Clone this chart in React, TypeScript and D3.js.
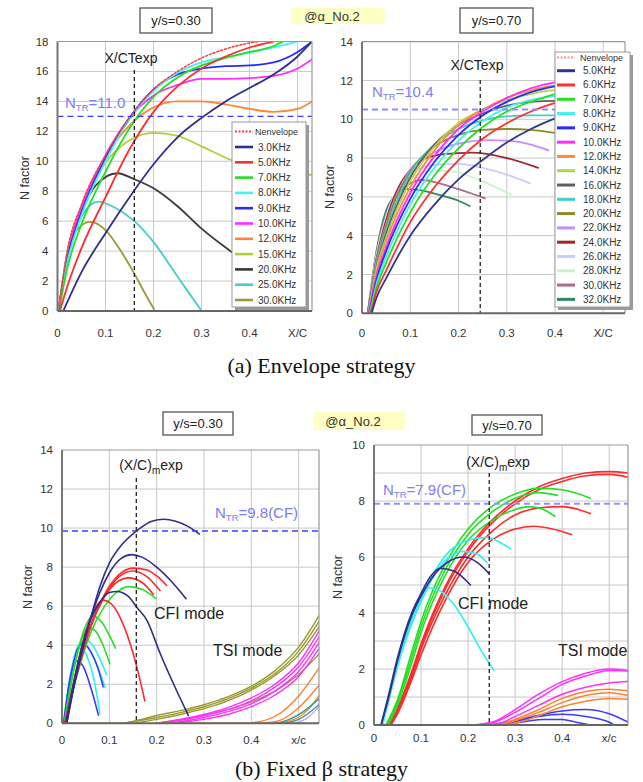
import React from "react";
import * as d3 from "d3";

type Pt = [number, number];

// ================= (a) y/s=0.30 : envelope strategy =================
const aLabels = ["3.0KHz", "5.0KHz", "7.0KHz", "8.0KHz", "9.0KHz", "10.0KHz", "12.0KHz", "15.0KHz", "20.0KHz", "25.0KHz", "30.0KHz"];
const aColors = ["#2e2e8c", "#ff2d2d", "#22e022", "#44f0f0", "#2a2aff", "#ff2cff", "#ff8534", "#a9d13a", "#3a3a3a", "#45cccc", "#9c9a38"];
const aEnvelope: Pt[] = [[0.003, 0], [0.02, 3.9], [0.05, 7.1], [0.1, 10.4], [0.15, 12.9], [0.2, 14.8], [0.25, 16.0], [0.3, 16.9], [0.35, 17.5], [0.4, 17.9], [0.42, 18]];
const a3k: Pt[] = [[0.012, 0], [0.05, 2.6], [0.1, 5.2], [0.15, 7.6], [0.2, 9.8], [0.25, 11.6], [0.3, 12.9], [0.35, 14.0], [0.4, 14.9], [0.45, 15.8], [0.5, 17.0], [0.53, 18]];
const a5k: Pt[] = [[0.005, 0], [0.02, 1.6], [0.05, 4.2], [0.1, 7.6], [0.15, 10.8], [0.2, 13.3], [0.25, 15.0], [0.3, 16.2], [0.35, 17.0], [0.4, 17.6], [0.45, 18.0]];
const a7k: Pt[] = [[0.003, 0], [0.02, 2.8], [0.05, 5.8], [0.1, 9.3], [0.15, 12.2], [0.2, 14.3], [0.25, 15.6], [0.3, 16.4], [0.35, 16.9], [0.4, 17.3], [0.45, 17.7], [0.47, 18]];
const a8k: Pt[] = [[0.002, 0], [0.02, 3.2], [0.05, 6.4], [0.1, 10.0], [0.15, 12.8], [0.2, 14.7], [0.25, 15.9], [0.3, 16.6], [0.35, 16.95], [0.4, 17.25], [0.45, 17.6], [0.5, 18]];
const a9k: Pt[] = [[0.002, 0], [0.02, 3.4], [0.05, 6.6], [0.1, 10.2], [0.15, 12.9], [0.2, 14.8], [0.25, 15.8], [0.3, 16.2], [0.35, 16.35], [0.4, 16.4], [0.45, 16.6], [0.5, 17.3], [0.53, 18]];
const a10k: Pt[] = [[0.002, 0], [0.02, 3.6], [0.05, 6.9], [0.1, 10.4], [0.15, 12.9], [0.2, 14.4], [0.25, 15.1], [0.3, 15.5], [0.35, 15.5], [0.4, 15.55], [0.45, 15.7], [0.5, 16.2], [0.53, 16.8]];
const a12k: Pt[] = [[0.002, 0], [0.02, 3.8], [0.05, 7.0], [0.1, 10.3], [0.15, 12.4], [0.2, 13.6], [0.25, 14.0], [0.3, 14.0], [0.35, 13.8], [0.4, 13.5], [0.45, 13.3], [0.5, 13.5], [0.53, 14.0]];
const a15k: Pt[] = [[0.002, 0], [0.02, 3.9], [0.05, 7.0], [0.1, 9.9], [0.15, 11.4], [0.2, 11.9], [0.25, 11.7], [0.3, 11.0], [0.36, 10.1], [0.42, 9.4], [0.48, 9.1], [0.53, 9.1]];
const a20k: Pt[] = [[0.002, 0], [0.02, 3.6], [0.05, 6.6], [0.08, 8.4], [0.125, 9.2], [0.16, 8.8], [0.2, 8.2], [0.25, 7.0], [0.3, 5.5], [0.36, 4.0], [0.42, 2.6]];
const a25k: Pt[] = [[0.002, 0], [0.02, 3.5], [0.05, 6.3], [0.085, 7.3], [0.12, 6.9], [0.16, 6.0], [0.2, 4.6], [0.25, 2.3], [0.3, 0]];
const a30k: Pt[] = [[0.002, 0], [0.02, 3.8], [0.04, 5.4], [0.068, 5.95], [0.1, 5.4], [0.13, 4.1], [0.16, 2.5], [0.18, 1.3], [0.203, 0]];
const aCurves = [a3k, a5k, a7k, a8k, a9k, a10k, a12k, a15k, a20k, a25k, a30k];

// ================= (a) y/s=0.70 : envelope strategy =================
const bLabels = ["5.0KHz", "6.0KHz", "7.0KHz", "8.0KHz", "9.0KHz", "10.0KHz", "12.0KHz", "14.0KHz", "16.0KHz", "18.0KHz", "20.0KHz", "22.0KHz", "24.0KHz", "26.0KHz", "28.0KHz", "30.0KHz", "32.0KHz"];
const bColors = ["#34348e", "#ff3030", "#22e022", "#44f0f0", "#2a2aff", "#ff2cff", "#ff8a40", "#b2d44a", "#606060", "#45cccc", "#8c8a24", "#c48cff", "#9c2a2a", "#ccccff", "#c8f5c8", "#b06a88", "#2e8a5a"];
const b5k: Pt[] = [[0.02, 0], [0.03, 0.8], [0.05, 1.8], [0.1, 4.0], [0.15, 5.6], [0.2, 6.9], [0.25, 7.9], [0.3, 8.8], [0.35, 9.5], [0.4, 10.05], [0.45, 10.5]];
const b6k: Pt[] = [[0.018, 0], [0.03, 1.1], [0.05, 2.2], [0.1, 4.7], [0.15, 6.5], [0.2, 7.9], [0.25, 9.0], [0.3, 9.8], [0.35, 10.4], [0.4, 10.85], [0.45, 11.2]];
const b7k: Pt[] = [[0.017, 0], [0.03, 1.3], [0.05, 2.6], [0.1, 5.2], [0.15, 7.1], [0.2, 8.5], [0.25, 9.6], [0.3, 10.4], [0.35, 10.9], [0.4, 11.3], [0.45, 11.5]];
const b8k: Pt[] = [[0.016, 0], [0.03, 1.5], [0.05, 2.9], [0.1, 5.6], [0.15, 7.5], [0.2, 8.9], [0.25, 9.9], [0.3, 10.6], [0.35, 11.0], [0.4, 11.2], [0.45, 11.3]];
const b9k: Pt[] = [[0.015, 0], [0.03, 1.7], [0.05, 3.2], [0.1, 5.9], [0.15, 7.8], [0.2, 9.2], [0.25, 10.2], [0.3, 10.9], [0.35, 11.4], [0.4, 11.7], [0.45, 11.85]];
const b10k: Pt[] = [[0.014, 0], [0.03, 1.9], [0.05, 3.4], [0.1, 6.2], [0.15, 8.1], [0.2, 9.5], [0.25, 10.4], [0.3, 11.1], [0.35, 11.6], [0.4, 11.9], [0.45, 12.0]];
const b12k: Pt[] = [[0.013, 0], [0.03, 2.1], [0.05, 3.7], [0.1, 6.5], [0.15, 8.4], [0.2, 9.7], [0.25, 10.5], [0.3, 11.1], [0.35, 11.5], [0.4, 11.75], [0.45, 11.85]];
const b14k: Pt[] = [[0.013, 0], [0.03, 2.3], [0.05, 3.9], [0.1, 6.8], [0.15, 8.6], [0.2, 9.8], [0.25, 10.5], [0.3, 11.0], [0.35, 11.3], [0.4, 11.5], [0.45, 11.5]];
const b16k: Pt[] = [[0.012, 0], [0.03, 2.4], [0.05, 4.1], [0.1, 7.0], [0.15, 8.7], [0.2, 9.7], [0.25, 10.3], [0.3, 10.7], [0.35, 10.9], [0.4, 10.95], [0.45, 10.9]];
const b18k: Pt[] = [[0.012, 0], [0.03, 2.5], [0.05, 4.3], [0.1, 7.2], [0.15, 8.7], [0.2, 9.5], [0.25, 9.95], [0.3, 10.15], [0.35, 10.2], [0.4, 10.2], [0.45, 10.1]];
const b20k: Pt[] = [[0.012, 0], [0.03, 2.6], [0.05, 4.5], [0.1, 7.3], [0.15, 8.6], [0.2, 9.2], [0.25, 9.45], [0.3, 9.5], [0.35, 9.45], [0.4, 9.3]];
const b22k: Pt[] = [[0.012, 0], [0.03, 2.7], [0.05, 4.6], [0.1, 7.4], [0.15, 8.3], [0.2, 8.75], [0.26, 8.93], [0.3, 8.9], [0.35, 8.7], [0.386, 8.4]];
const b24k: Pt[] = [[0.012, 0], [0.03, 2.8], [0.05, 4.8], [0.08, 6.7], [0.1, 7.4], [0.124, 7.9], [0.17, 8.2], [0.228, 8.28], [0.3, 8.0], [0.365, 7.5]];
const b26k: Pt[] = [[0.012, 0], [0.03, 2.9], [0.05, 4.9], [0.1, 7.2], [0.15, 7.65], [0.2, 7.7], [0.25, 7.5], [0.3, 7.15], [0.348, 6.7]];
const b28k: Pt[] = [[0.012, 0], [0.03, 3.0], [0.05, 5.0], [0.1, 7.0], [0.15, 7.35], [0.19, 7.3], [0.25, 6.8], [0.31, 6.1]];
const b30k: Pt[] = [[0.012, 0], [0.03, 3.1], [0.05, 5.1], [0.08, 6.3], [0.1, 6.7], [0.124, 6.87], [0.16, 6.7], [0.2, 6.4], [0.23, 6.15], [0.255, 5.93]];
const b32k: Pt[] = [[0.012, 0], [0.03, 3.2], [0.05, 5.3], [0.07, 6.1], [0.09, 6.4], [0.12, 6.35], [0.16, 6.1], [0.2, 5.8], [0.223, 5.53]];
const bCurves = [b5k, b6k, b7k, b8k, b9k, b10k, b12k, b14k, b16k, b18k, b20k, b22k, b24k, b26k, b28k, b30k, b32k];

// ================= (b) y/s=0.30 : fixed beta strategy =================
const cNavy: Pt[][] = [
  [[0.01, 0], [0.03, 2.4], [0.05, 4.4], [0.08, 7.0], [0.1, 8.2], [0.13, 9.25], [0.16, 9.9], [0.19, 10.35], [0.215, 10.45], [0.24, 10.35], [0.265, 10.1], [0.29, 9.7]],
  [[0.01, 0], [0.03, 2.5], [0.05, 4.5], [0.08, 6.7], [0.1, 7.7], [0.125, 8.45], [0.147, 8.64], [0.17, 8.5], [0.2, 8.0], [0.23, 7.3], [0.262, 6.38]],
  [[0.008, 0], [0.03, 2.7], [0.05, 4.6], [0.08, 6.2], [0.1, 6.7], [0.116, 6.75], [0.14, 6.5], [0.158, 5.95], [0.18, 5.25], [0.207, 3.6], [0.235, 2.05], [0.267, 0.4]],
];
const cRed: Pt[][] = [
  [[0.006, 0], [0.03, 2.4], [0.06, 4.9], [0.09, 6.6], [0.12, 7.6], [0.15, 7.95], [0.18, 7.85], [0.2, 7.55], [0.221, 7.06]],
  [[0.006, 0], [0.03, 2.4], [0.06, 4.9], [0.09, 6.5], [0.12, 7.5], [0.15, 7.8], [0.18, 7.5], [0.207, 6.8]],
  [[0.006, 0], [0.03, 2.5], [0.06, 5.0], [0.09, 6.5], [0.12, 7.3], [0.14, 7.45], [0.17, 7.2], [0.193, 6.6]],
  [[0.006, 0], [0.03, 2.7], [0.05, 4.7], [0.07, 5.9], [0.087, 6.3], [0.105, 6.1], [0.125, 5.3], [0.145, 4.0], [0.16, 2.7], [0.175, 1.15]],
];
const cGreen: Pt[][] = [
  [[0.006, 0], [0.03, 2.3], [0.06, 4.6], [0.09, 6.0], [0.115, 6.7], [0.14, 7.0], [0.17, 6.85], [0.198, 6.4]],
  [[0.005, 0], [0.02, 2.1], [0.04, 4.3], [0.066, 5.5], [0.085, 5.15], [0.1, 4.5], [0.113, 3.85]],
  [[0.005, 0], [0.02, 2.2], [0.04, 4.2], [0.055, 4.9], [0.07, 4.75], [0.085, 4.1], [0.101, 3.05]],
];
const cCyan: Pt[][] = [
  [[0.003, 0], [0.02, 2.7], [0.035, 4.0], [0.05, 4.25], [0.065, 4.0], [0.08, 3.3], [0.094, 2.5]],
  [[0.003, 0], [0.02, 2.7], [0.033, 3.9], [0.045, 4.1], [0.06, 3.7], [0.075, 2.9], [0.091, 1.85]],
  [[0.003, 0], [0.02, 2.8], [0.03, 3.6], [0.04, 3.85], [0.055, 3.3], [0.068, 2.2], [0.08, 0.5]],
];
const cBlue: Pt[][] = [
  [[0.004, 0], [0.02, 2.6], [0.033, 3.8], [0.045, 4.08], [0.06, 3.7], [0.075, 2.9], [0.087, 1.87]],
  [[0.004, 0], [0.015, 2.0], [0.025, 3.0], [0.032, 3.2], [0.045, 2.9], [0.06, 1.9], [0.077, 0.42]],
];
const cTsiOlive: Pt[][] = [
  [[0.0, 0], [0.12, 0], [0.15, 0.1], [0.2, 0.4], [0.25, 0.65], [0.3, 0.95], [0.35, 1.35], [0.4, 1.9], [0.45, 2.7], [0.5, 3.9], [0.545, 5.6]],
  [[0.13, 0], [0.2, 0.3], [0.25, 0.55], [0.3, 0.85], [0.35, 1.25], [0.4, 1.8], [0.45, 2.55], [0.5, 3.7], [0.545, 5.3]],
  [[0.15, 0], [0.2, 0.2], [0.25, 0.45], [0.3, 0.75], [0.35, 1.15], [0.4, 1.7], [0.45, 2.45], [0.5, 3.5], [0.545, 5.0]],
  [[0.2, 0], [0.25, 0.2], [0.3, 0.4], [0.35, 0.7], [0.4, 1.1], [0.45, 1.65], [0.5, 2.5], [0.545, 3.6]],
];
const cTsiMagenta: Pt[][] = [
  [[0.2, 0], [0.25, 0.2], [0.3, 0.45], [0.35, 0.8], [0.4, 1.3], [0.45, 2.0], [0.5, 3.1], [0.545, 4.8]],
  [[0.21, 0], [0.25, 0.15], [0.3, 0.4], [0.35, 0.7], [0.4, 1.15], [0.45, 1.85], [0.5, 2.9], [0.545, 4.5]],
  [[0.22, 0], [0.26, 0.12], [0.3, 0.3], [0.35, 0.6], [0.4, 1.0], [0.45, 1.65], [0.5, 2.65], [0.545, 4.2]],
  [[0.24, 0], [0.3, 0.2], [0.35, 0.45], [0.4, 0.85], [0.45, 1.45], [0.5, 2.4], [0.545, 3.9]],
];
const cTsiOrange: Pt[][] = [
  [[0.2, 0], [0.38, 0], [0.42, 0.1], [0.46, 0.5], [0.5, 1.4], [0.545, 2.9]],
  [[0.42, 0], [0.46, 0.15], [0.5, 0.8], [0.545, 2.0]],
  [[0.45, 0], [0.49, 0.2], [0.52, 0.7], [0.545, 1.5]],
];
const cTsiTeal: Pt[][] = [
  [[0.45, 0], [0.48, 0.2], [0.51, 0.6], [0.545, 1.3]],
  [[0.47, 0], [0.5, 0.2], [0.545, 1.0]],
];
const cTsiLavender: Pt[][] = [[[0.49, 0], [0.52, 0.3], [0.545, 0.9]]];

// ================= (b) y/s=0.70 : fixed beta strategy =================
const dNavy: Pt[][] = [
  [[0.015, 0], [0.03, 0.9], [0.05, 2.3], [0.08, 3.9], [0.1, 4.6], [0.13, 5.4], [0.16, 5.85], [0.19, 6.0], [0.22, 5.8], [0.245, 5.4]],
  [[0.015, 0], [0.03, 1.0], [0.05, 2.4], [0.08, 4.0], [0.1, 4.7], [0.12, 5.3], [0.14, 5.6], [0.17, 5.5], [0.205, 5.0]],
];
const dCyan: Pt[][] = [
  [[0.018, 0], [0.03, 0.8], [0.05, 2.1], [0.08, 3.7], [0.1, 4.5], [0.13, 5.5], [0.16, 6.2], [0.2, 6.6], [0.24, 6.7], [0.27, 6.5], [0.29, 6.3]],
  [[0.018, 0], [0.03, 0.8], [0.05, 2.1], [0.08, 3.6], [0.1, 4.4], [0.13, 5.4], [0.16, 6.0], [0.19, 6.2], [0.22, 6.1], [0.24, 5.8]],
  [[0.016, 0], [0.03, 0.9], [0.05, 2.2], [0.08, 3.8], [0.1, 4.6], [0.12, 4.9], [0.14, 4.8], [0.17, 4.3], [0.2, 3.5], [0.23, 2.6], [0.255, 1.95]],
];
const dGreen: Pt[][] = [
  [[0.025, 0], [0.05, 0.9], [0.08, 2.6], [0.1, 3.7], [0.15, 5.7], [0.2, 7.0], [0.25, 7.8], [0.3, 8.25], [0.35, 8.45], [0.4, 8.4], [0.46, 8.1]],
  [[0.027, 0], [0.05, 0.8], [0.08, 2.4], [0.1, 3.5], [0.15, 5.5], [0.2, 6.8], [0.25, 7.6], [0.3, 8.1], [0.35, 8.3], [0.39, 8.2]],
  [[0.03, 0], [0.05, 0.7], [0.08, 2.2], [0.1, 3.3], [0.15, 5.3], [0.2, 6.6], [0.25, 7.3], [0.3, 7.7], [0.33, 7.8], [0.36, 7.7], [0.385, 7.45]],
];
const dRed: Pt[][] = [
  [[0.03, 0], [0.05, 0.6], [0.08, 1.9], [0.1, 2.9], [0.15, 4.9], [0.2, 6.3], [0.25, 7.3], [0.3, 8.0], [0.35, 8.5], [0.4, 8.8], [0.45, 9.0], [0.5, 9.05], [0.54, 9.0]],
  [[0.032, 0], [0.05, 0.5], [0.08, 1.8], [0.1, 2.8], [0.15, 4.8], [0.2, 6.2], [0.25, 7.2], [0.3, 7.9], [0.35, 8.4], [0.4, 8.7], [0.45, 8.9], [0.5, 8.95], [0.54, 8.85]],
  [[0.034, 0], [0.05, 0.5], [0.08, 1.7], [0.1, 2.7], [0.15, 4.6], [0.2, 6.0], [0.25, 6.9], [0.3, 7.5], [0.35, 7.75], [0.4, 7.8], [0.46, 7.55]],
  [[0.036, 0], [0.05, 0.4], [0.08, 1.6], [0.1, 2.5], [0.15, 4.4], [0.2, 5.8], [0.25, 6.6], [0.3, 7.0], [0.34, 7.1], [0.38, 7.0], [0.42, 6.8]],
];
const dTsiMagenta: Pt[][] = [
  [[0.0, 0], [0.2, 0], [0.25, 0.1], [0.3, 0.55], [0.35, 1.1], [0.4, 1.55], [0.45, 1.85], [0.5, 2.0], [0.54, 1.95]],
  [[0.21, 0], [0.25, 0.07], [0.3, 0.45], [0.35, 0.95], [0.4, 1.45], [0.45, 1.75], [0.5, 1.95], [0.54, 1.93]],
  [[0.23, 0], [0.27, 0.08], [0.3, 0.3], [0.35, 0.7], [0.4, 1.1], [0.45, 1.35], [0.5, 1.5], [0.54, 1.55]],
];
const dTsiOrange: Pt[][] = [
  [[0.26, 0], [0.3, 0.2], [0.35, 0.55], [0.4, 0.95], [0.45, 1.2], [0.5, 1.28], [0.54, 1.22]],
  [[0.27, 0], [0.3, 0.15], [0.35, 0.45], [0.4, 0.8], [0.45, 1.05], [0.5, 1.15], [0.54, 1.05]],
  [[0.28, 0], [0.32, 0.15], [0.36, 0.4], [0.4, 0.65], [0.45, 0.85], [0.5, 0.95], [0.54, 0.92]],
];
const dTsiBlue: Pt[][] = [
  [[0.25, 0], [0.3, 0.15], [0.35, 0.35], [0.4, 0.5], [0.45, 0.55], [0.5, 0.4], [0.54, 0.1]],
  [[0.26, 0], [0.3, 0.12], [0.35, 0.3], [0.4, 0.38], [0.45, 0.3], [0.5, 0.1], [0.51, 0]],
  [[0.27, 0], [0.32, 0.12], [0.36, 0.2], [0.4, 0.2], [0.43, 0.1], [0.46, 0]],
];

// reference values
const ntrValues = [13.0, 10.5, 9.85, 7.9];
const ntrTexts = ["=11.0", "=10.4", "=9.8(CF)", "=7.9(CF)"];
const xcExp = [0.16, 0.245, 0.157, 0.245];
const xTickValues = [0, 0.1, 0.2, 0.3, 0.4];

const SANS = "'Liberation Sans', Arial, Helvetica, sans-serif";
const SERIF = "'Liberation Serif', 'Times New Roman', serif";

type Curve = { pts: Pt[]; color: string; width?: number; dash?: string };
type Box = { l: number; r: number; t: number; b: number };

function Panel(props: {
  id: string; box: Box; xMax: number; yMax: number; yStep: number; gridStep: number;
  xEnd: string; xLabelDy: number; curves: Curve[]; ntr: number; ntrColor: string; ntrWidth: number;
  vx: number; vTop: number; yLabelPos: [number, number];
  extra: (x: d3.ScaleLinear<number, number>, y: d3.ScaleLinear<number, number>) => React.ReactNode;
}) {
  const { id, box, xMax, yMax, yStep, gridStep, curves } = props;
  const x = d3.scaleLinear().domain([0, xMax]).range([box.l, box.r]);
  const y = d3.scaleLinear().domain([0, yMax]).range([box.b, box.t]);
  const line = d3.line<Pt>().x((d) => x(d[0])).y((d) => y(d[1])).curve(d3.curveMonotoneX);
  const yGrid = d3.range(gridStep, yMax - 1e-6, gridStep);
  const xGrid = d3.range(1, Math.floor(xMax * 10 + 1e-6) + 1).map((i) => i / 10).filter((v) => v < xMax - 0.005);
  const yTicks = d3.range(0, yMax + 1e-6, yStep);
  return (
    <g>
      <defs>
        <clipPath id={id}>
          <rect x={box.l} y={box.t} width={box.r - box.l} height={box.b - box.t} />
        </clipPath>
      </defs>
      <rect x={box.l} y={box.t} width={box.r - box.l} height={box.b - box.t} fill="#fff" />
      {yGrid.map((v) => (
        <line key={"gy" + v} x1={box.l} x2={box.r} y1={y(v)} y2={y(v)} stroke="#c8c8c8" strokeWidth={1} />
      ))}
      {xGrid.map((v) => (
        <line key={"gx" + v} x1={x(v)} x2={x(v)} y1={box.t} y2={box.b} stroke="#c8c8c8" strokeWidth={1} />
      ))}
      <g clipPath={`url(#${id})`}>
        {curves.map((c, i) => (
          <path key={i} d={line(c.pts) || ""} fill="none" stroke={c.color} strokeWidth={c.width ?? 1.7}
            strokeDasharray={c.dash} strokeLinecap="round" strokeLinejoin="round" />
        ))}
        <line x1={box.l} x2={box.r} y1={y(props.ntr)} y2={y(props.ntr)} stroke={props.ntrColor}
          strokeWidth={props.ntrWidth} strokeDasharray="6,4" />
        <line x1={x(props.vx)} x2={x(props.vx)} y1={props.vTop} y2={box.b} stroke="#222"
          strokeWidth={1.3} strokeDasharray="4,3" />
      </g>
      <line x1={box.l} x2={box.r} y1={box.t} y2={box.t} stroke="#999" strokeWidth={1.2} />
      <line x1={box.r} x2={box.r} y1={box.t} y2={box.b} stroke="#999" strokeWidth={1.2} />
      <line x1={box.l} x2={box.l} y1={box.t} y2={box.b} stroke="#777" strokeWidth={2} />
      <line x1={box.l} x2={box.r} y1={box.b} y2={box.b} stroke="#666" strokeWidth={2} />
      {yTicks.map((v) => (
        <text key={"ty" + v} x={box.l - 9} y={y(v)} dy="0.35em" textAnchor="end" fontSize={11.5}
          fontFamily={SANS} fill="#333">{d3.format("d")(v)}</text>
      ))}
      {xTickValues.map((v) => (
        <text key={"tx" + v} x={x(v)} y={box.b + props.xLabelDy} dy="0.35em" textAnchor="middle"
          fontSize={11.5} fontFamily={SANS} fill="#333">{v === 0 ? "0" : d3.format(".1f")(v)}</text>
      ))}
      <text x={x(0.5)} y={box.b + props.xLabelDy} dy="0.35em" textAnchor="middle" fontSize={11.5}
        fontFamily={SANS} fill="#333">{props.xEnd}</text>
      <text transform={`translate(${props.yLabelPos[0]},${props.yLabelPos[1]}) rotate(-90)`} textAnchor="middle"
        dy="0.35em" fontSize={12.5} fontFamily={SANS} fill="#333">N factor</text>
      {props.extra(x, y)}
    </g>
  );
}

function Legend(props: { x: number; y: number; w: number; h: number; envY: number; envColor: string; firstY: number; step: number;
  labels: string[]; colors: string[]; sx: number; tx: number; sw: number; fs: number; }) {
  const { x, y, w, h } = props;
  return (
    <g>
      <rect x={x + 3} y={y + 3} width={w} height={h} fill="#9a9a9a" />
      <rect x={x} y={y} width={w} height={h} fill="#fff" stroke="#999" strokeWidth={1} />
      <line x1={props.sx} x2={props.sx + 18} y1={props.envY} y2={props.envY} stroke={props.envColor} strokeWidth={1.8} strokeDasharray="2,1.5" />
      <text x={props.tx - 3} y={props.envY} dy="0.35em" fontSize={props.fs - 1} fontFamily={SANS} fill="#333">Nenvelope</text>
      {props.labels.map((lab, i) => {
        const yy = props.firstY + i * props.step;
        return (
          <g key={lab}>
            <line x1={props.sx} x2={props.sx + 18} y1={yy} y2={yy} stroke={props.colors[i]} strokeWidth={props.sw} />
            <text x={props.tx} y={yy} dy="0.35em" fontSize={props.fs} fontFamily={SANS} fill="#333">{lab}</text>
          </g>
        );
      })}
    </g>
  );
}

function NtrLabel(props: { x: number; y: number; text: string; color: string }) {
  return (
    <text x={props.x} y={props.y} fontSize={15} fontFamily={SANS} fill={props.color}>
      N<tspan fontSize={9.5} dy={3}>TR</tspan><tspan dy={-3}>{props.text}</tspan>
    </text>
  );
}

function XcmLabel(props: { x: number; y: number }) {
  return (
    <text x={props.x} y={props.y} textAnchor="middle" fontSize={14} fontFamily={SANS} fill="#222">
      (X/C)<tspan fontSize={10} dy={4}>m</tspan><tspan dy={-4}>exp</tspan>
    </text>
  );
}

function HeaderBox(props: { x: number; y: number; w: number; h: number; text: string }) {
  return (
    <g>
      <rect x={props.x} y={props.y} width={props.w} height={props.h} fill="#fff" stroke="#555" strokeWidth={1.3} />
      <text x={props.x + props.w / 2} y={props.y + props.h / 2} dy="0.35em" textAnchor="middle" fontSize={13}
        fontFamily={SANS} fill="#222">{props.text}</text>
    </g>
  );
}

function Tag(props: { x: number; y: number; w: number; h: number }) {
  return (
    <g>
      <rect x={props.x} y={props.y} width={props.w} height={props.h} fill="#ffffc4" />
      <text x={props.x + props.w / 2 - 6} y={props.y + props.h / 2} dy="0.35em" textAnchor="middle" fontSize={13}
        fontFamily={SANS} fill="#333">@α_No.2</text>
    </g>
  );
}

export default function App() {
  const aSeries: Curve[] = [
    ...aCurves.map((pts, i) => ({ pts, color: aColors[i], width: 1.8 })).reverse(),
    { pts: aEnvelope, color: "#ff3a3a", width: 1.5, dash: "2,2" },
  ];
  const bSeries: Curve[] = bCurves.map((pts, i) => ({ pts, color: bColors[i], width: 1.8 })).reverse();
  const cSeries: Curve[] = [
    ...cTsiOlive.map((pts) => ({ pts, color: "#9a9a30", width: 1.4 })),
    ...cTsiMagenta.map((pts) => ({ pts, color: "#ff30ff", width: 1.4 })),
    ...cTsiOrange.map((pts) => ({ pts, color: "#ff8030", width: 1.4 })),
    ...cTsiTeal.map((pts) => ({ pts, color: "#3a9a8a", width: 1.4 })),
    ...cTsiLavender.map((pts) => ({ pts, color: "#c8a0ff", width: 1.4 })),
    ...cCyan.map((pts) => ({ pts, color: "#30f0f0", width: 1.6 })),
    ...cBlue.map((pts) => ({ pts, color: "#3a3aff", width: 1.6 })),
    ...cGreen.map((pts) => ({ pts, color: "#22e022", width: 1.6 })),
    ...cRed.map((pts) => ({ pts, color: "#ff2a2a", width: 1.6 })),
    ...cNavy.map((pts) => ({ pts, color: "#2e2e8c", width: 1.6 })),
  ];
  const dSeries: Curve[] = [
    ...dTsiBlue.map((pts) => ({ pts, color: "#3a3aff", width: 1.5 })),
    ...dTsiOrange.map((pts) => ({ pts, color: "#ff8030", width: 1.5 })),
    ...dTsiMagenta.map((pts) => ({ pts, color: "#ff30ff", width: 1.5 })),
    ...dRed.map((pts) => ({ pts, color: "#ff2a2a", width: 1.6 })),
    ...dGreen.map((pts) => ({ pts, color: "#22e022", width: 1.6 })),
    ...dCyan.map((pts) => ({ pts, color: "#30f0f0", width: 1.6 })),
    ...dNavy.map((pts) => ({ pts, color: "#2e2e8c", width: 1.6 })),
  ];

  return (
    <svg width={643} height={782} viewBox="0 0 643 782" style={{ position: "absolute", left: 0, top: 0, background: "#fff" }}>
      <rect x={0} y={0} width={643} height={782} fill="#fff" />

      <HeaderBox x={140} y={8} w={72} h={25} text="y/s=0.30" />
      <Tag x={291} y={8} w={94} h={16} />
      <HeaderBox x={460} y={8} w={73} h={25} text="y/s=0.70" />

      <Panel id="pa" box={{ l: 57.5, r: 312, t: 41.5, b: 311 }} xMax={0.53} yMax={18} yStep={2} gridStep={2}
        xEnd="X/C" xLabelDy={22} curves={aSeries} ntr={ntrValues[0]} ntrColor="#3c3cff" ntrWidth={1.4}
        vx={xcExp[0]} vTop={70} yLabelPos={[25, 178]}
        extra={() => (
          <g>
            <text x={131} y={58} dy="0.35em" textAnchor="middle" fontSize={14} fontFamily={SANS} fill="#222">X/CTexp</text>
            <NtrLabel x={65} y={108} text={ntrTexts[0]} color="#7b7bf2" />
          </g>
        )} />
      <Legend x={232} y={122} w={74} h={185} envY={131.5} envColor="#ff3a3a" firstY={147} step={15.3}
        labels={aLabels} colors={aColors} sx={235} tx={258} sw={2.6} fs={10} />

      <Panel id="pb" box={{ l: 362, r: 625, t: 41.7, b: 313.3 }} xMax={0.545} yMax={14} yStep={2} gridStep={2}
        xEnd="X/C" xLabelDy={20} curves={bSeries} ntr={ntrValues[1]} ntrColor="#8c8cff" ntrWidth={2}
        vx={xcExp[1]} vTop={80} yLabelPos={[330, 187]}
        extra={() => (
          <g>
            <text x={477} y={65} dy="0.35em" textAnchor="middle" fontSize={14} fontFamily={SANS} fill="#222">X/CTexp</text>
            <NtrLabel x={372} y={97} text={ntrTexts[1]} color="#8080f0" />
          </g>
        )} />
      <Legend x={555} y={52} w={75} h={255} envY={57.5} envColor="#ff8a8a" firstY={70.7} step={14.29}
        labels={bLabels} colors={bColors} sx={557} tx={583} sw={3} fs={10} />

      <text x={321.5} y={365} dy="0.35em" textAnchor="middle" fontSize={22} fontFamily={SERIF} fill="#111">(a) Envelope strategy</text>

      <HeaderBox x={163} y={412} w={70} h={23} text="y/s=0.30" />
      <Tag x={313} y={412} w={92} h={18} />
      <HeaderBox x={472} y={415} w={70} h={20} text="y/s=0.70" />

      <Panel id="pc" box={{ l: 62, r: 319, t: 450, b: 723.3 }} xMax={0.543} yMax={14} yStep={2} gridStep={2}
        xEnd="x/c" xLabelDy={17} curves={cSeries} ntr={ntrValues[2]} ntrColor="#3c3cff" ntrWidth={1.4}
        vx={xcExp[2]} vTop={478} yLabelPos={[28, 587]}
        extra={() => (
          <g>
            <XcmLabel x={151} y={470} />
            <NtrLabel x={215} y={518} text={ntrTexts[2]} color="#7b7bf2" />
            <text x={154} y={613} dy="0.35em" fontSize={16} fontFamily={SANS} fill="#222">CFI mode</text>
            <text x={213} y={650} dy="0.35em" fontSize={16} fontFamily={SANS} fill="#222">TSI mode</text>
          </g>
        )} />

      <Panel id="pd" box={{ l: 374, r: 628, t: 445, b: 725 }} xMax={0.54} yMax={10} yStep={2} gridStep={1}
        xEnd="x/c" xLabelDy={13} curves={dSeries} ntr={ntrValues[3]} ntrColor="#9090ff" ntrWidth={2}
        vx={xcExp[3]} vTop={473} yLabelPos={[338, 577]}
        extra={() => (
          <g>
            <XcmLabel x={498} y={467} />
            <NtrLabel x={383} y={495} text={ntrTexts[3]} color="#8080f0" />
            <text x={458} y={603} dy="0.35em" fontSize={16} fontFamily={SANS} fill="#222">CFI mode</text>
            <text x={558} y={650} dy="0.35em" fontSize={16} fontFamily={SANS} fill="#222">TSI mode</text>
          </g>
        )} />

      <text x={321.5} y={768} dy="0.35em" textAnchor="middle" fontSize={22} fontFamily={SERIF} fill="#111">(b) Fixed β strategy</text>
    </svg>
  );
}
